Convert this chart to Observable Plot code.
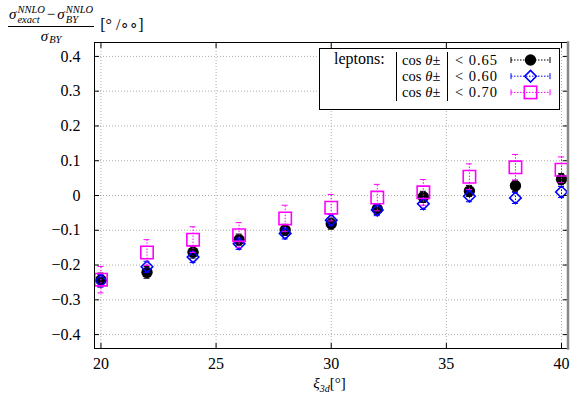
<!DOCTYPE html>
<html><head><meta charset="utf-8">
<script src="https://cdn.jsdelivr.net/npm/d3@7"></script>
<script src="https://cdn.jsdelivr.net/npm/@observablehq/plot@0.6"></script>
<style>
body{margin:0;background:#fff;}
#wrap{position:relative;width:581px;height:407px;overflow:hidden;font-family:"Liberation Serif",serif;color:#000;}
#chart svg{display:block;}
.ov{position:absolute;}
#ylab{left:8px;top:5px;display:flex;align-items:center;}
.frac{display:inline-flex;flex-direction:column;align-items:center;}
.num{border-bottom:0.8px solid #000;padding:0 1px 2px 1px;font-size:15px;line-height:1;display:flex;align-items:center;}
.den{font-size:15px;line-height:1;padding-top:2px;display:flex;align-items:center;}
.ss{display:inline-flex;flex-direction:column;font-size:10.5px;line-height:0.92;font-style:italic;margin-left:1px;}
.sub{font-size:10.5px;font-style:italic;position:relative;top:3px;margin-left:1px;}
.it{font-style:italic;}
#brk{font-size:16px;margin-left:6px;}
#xlab{left:0;width:581px;top:375px;text-align:center;font-size:15px;padding-left:78px;box-sizing:border-box;}
#xlab .s{font-size:10px;font-style:italic;position:relative;top:4px;}
</style></head><body>
<div id="wrap">
<div id="chart"></div>
<div id="ylab" class="ov">
  <span class="frac">
    <span class="num"><span class="it">σ</span><span class="ss"><span>NNLO</span><span>exact</span></span><span style="margin:0 2px">−</span><span class="it">σ</span><span class="ss"><span>NNLO</span><span>BY</span></span></span>
    <span class="den"><span class="it">σ</span><span class="sub">BY</span></span>
  </span>
  <span id="brk">[° /<span style="font-size:15px">∘∘</span>]</span>
</div>
<div id="xlab" class="ov"><span class="it">ξ</span><span class="s">3d</span>[°]</div>
<svg id="legend" class="ov" style="left:0;top:0" width="581" height="407"></svg>
</div>
<script>
// x positions (xi_3d in degrees)
const xs = [20, 22, 24, 26, 28, 30, 32, 34, 36, 38, 40];
// |cos theta| < 0.65 (black circles)
const y065 = [-0.243, -0.221, -0.163, -0.127, -0.099, -0.081, -0.039, -0.004, 0.013, 0.028, 0.047];
const e065 = [0.020, 0.017, 0.017, 0.016, 0.016, 0.016, 0.016, 0.016, 0.016, 0.016, 0.016];
// |cos theta| < 0.60 (blue diamonds)
const y060 = [-0.245, -0.205, -0.177, -0.139, -0.109, -0.071, -0.042, -0.024, -0.002, -0.007, 0.010];
const e060 = [0.018, 0.016, 0.016, 0.016, 0.016, 0.016, 0.016, 0.016, 0.016, 0.016, 0.016];
// |cos theta| < 0.70 (magenta squares)
const y070 = [-0.242, -0.164, -0.127, -0.114, -0.066, -0.035, -0.006, 0.009, 0.054, 0.081, 0.074];
const e070 = [0.038, 0.037, 0.037, 0.036, 0.038, 0.038, 0.038, 0.037, 0.037, 0.037, 0.037];
// ticks
const xTicks = [20, 25, 30, 35, 40];
const yTicks = [-0.4, -0.3, -0.2, -0.1, 0, 0.1, 0.2, 0.3, 0.4];
const yTickLabels = ["−0.4", "−0.3", "−0.2", "−0.1", "0", "0.1", "0.2", "0.3", "0.4"];
// legend
const legendLabels = ["< 0.65", "< 0.60", "< 0.70"];

const mk = (ys, es) => xs.map((x, i) => ({x, y: ys[i], e: es[i]}));
const d065 = mk(y065, e065), d060 = mk(y060, e060), d070 = mk(y070, e070);

const cap = 0.13;
function errbars(data, color) {
  return [
    Plot.ruleX(data, {x: "x", y1: d => d.y - d.e, y2: d => d.y + d.e, stroke: color, strokeWidth: 1, strokeDasharray: "1.5,1.5"}),
    Plot.ruleY(data, {y: d => d.y + d.e, x1: d => d.x - cap, x2: d => d.x + cap, stroke: color, strokeWidth: 1}),
    Plot.ruleY(data, {y: d => d.y - d.e, x1: d => d.x - cap, x2: d => d.x + cap, stroke: color, strokeWidth: 1})
  ];
}

const yfmt = d => yTickLabels[yTicks.findIndex(t => Math.abs(t - d) < 1e-9)];

const chart = Plot.plot({
  width: 581, height: 407,
  marginLeft: 94, marginRight: 14, marginTop: 42, marginBottom: 59,
  style: {fontFamily: "Liberation Serif, serif", fontSize: "16px", color: "black", background: "white", overflow: "visible"},
  x: {domain: [19.72, 40.26]},
  y: {domain: [-0.44, 0.44]},
  marks: [
    Plot.gridX(xTicks, {stroke: "#999", strokeOpacity: 1, strokeDasharray: "1,2", strokeWidth: 0.8}),
    Plot.gridY(yTicks, {stroke: "#999", strokeOpacity: 1, strokeDasharray: "1,2", strokeWidth: 0.8}),
    ...errbars(d065, "black"),
    Plot.dot(d065, {x: "x", y: "y", r: 5.7, symbol: "circle", fill: "black"}),
    ...errbars(d060, "blue"),
    Plot.dot(d060, {x: "x", y: "y", r: 5.2, symbol: "diamond2", stroke: "blue", strokeWidth: 1.6, fill: "none"}),
    ...errbars(d070, "#ff00ff"),
    Plot.dot(d070, {x: "x", y: "y", r: 7, symbol: "square", stroke: "#ff00ff", strokeWidth: 1.6, fill: "none"}),
    Plot.axisX(xTicks, {anchor: "bottom", tickSize: 0, tickPadding: 9, label: null}),
    Plot.axisX(xTicks, {anchor: "bottom", tickSize: -5, fill: "none", label: null}),
    Plot.axisX(xTicks, {anchor: "top", tickSize: -5, fill: "none", label: null}),
    Plot.axisY(yTicks, {anchor: "left", tickSize: 0, tickPadding: 14, tickFormat: yfmt, label: null}),
    Plot.axisY(yTicks, {anchor: "left", tickSize: -5, fill: "none", label: null}),
    Plot.axisY(yTicks, {anchor: "right", tickSize: -5, fill: "none", label: null}),
    Plot.frame({stroke: "black", strokeWidth: 1}),
    Plot.frame({anchor: "right", stroke: "#888", strokeWidth: 2.5, dx: 0.5})
  ]
});
document.getElementById("chart").append(chart);

// legend (layout only, not data)
const lg = d3.select("#legend");
lg.append("rect").attr("x", 319.5).attr("y", 48.5).attr("width", 240).attr("height", 61)
  .attr("fill", "white").attr("stroke", "black").attr("stroke-width", 1);
lg.append("text").attr("x", 334).attr("y", 64).attr("font-size", 16).text("leptons:");
lg.append("line").attr("x1", 396.5).attr("x2", 396.5).attr("y1", 52).attr("y2", 101).attr("stroke", "black");
lg.append("line").attr("x1", 447.5).attr("x2", 447.5).attr("y1", 52).attr("y2", 101).attr("stroke", "black");
const colors = ["black", "blue", "#ff00ff"];
const fs = 14.5, step = 16.2;
legendLabels.forEach((lab, i) => {
  const by = 64.5 + i * step;
  let xx = 402;
  [["cos", "normal", 4], ["θ", "italic", 0], ["±", "normal", 0]].forEach(([s, st, gap]) => {
    const t = lg.append("text").attr("x", xx).attr("y", by).attr("font-size", fs).attr("font-style", st).text(s);
    xx += t.node().getComputedTextLength() + gap;
  });
  lg.append("text").attr("x", 455).attr("y", by).attr("font-size", fs).attr("textLength", 42).text(lab);
  const cy = by - 4.5, c = colors[i];
  lg.append("line").attr("x1", 511).attr("x2", 550).attr("y1", cy).attr("y2", cy)
    .attr("stroke", c).attr("stroke-dasharray", "1.5,1.5");
  [511, 550].forEach(xp => lg.append("line").attr("x1", xp).attr("x2", xp).attr("y1", cy - 3).attr("y2", cy + 3).attr("stroke", c));
  if (i === 0) lg.append("circle").attr("cx", 530.5).attr("cy", cy).attr("r", 5.7).attr("fill", "black");
  if (i === 1) lg.append("path").attr("d", `M530.5,${cy - 5.8}L536.3,${cy}L530.5,${cy + 5.8}L524.7,${cy}Z`).attr("fill", "none").attr("stroke", "blue").attr("stroke-width", 1.6);
  if (i === 2) lg.append("rect").attr("x", 524.3).attr("y", cy - 6.2).attr("width", 12.4).attr("height", 12.4).attr("fill", "none").attr("stroke", "#ff00ff").attr("stroke-width", 1.6);
});
</script>
</body></html>
